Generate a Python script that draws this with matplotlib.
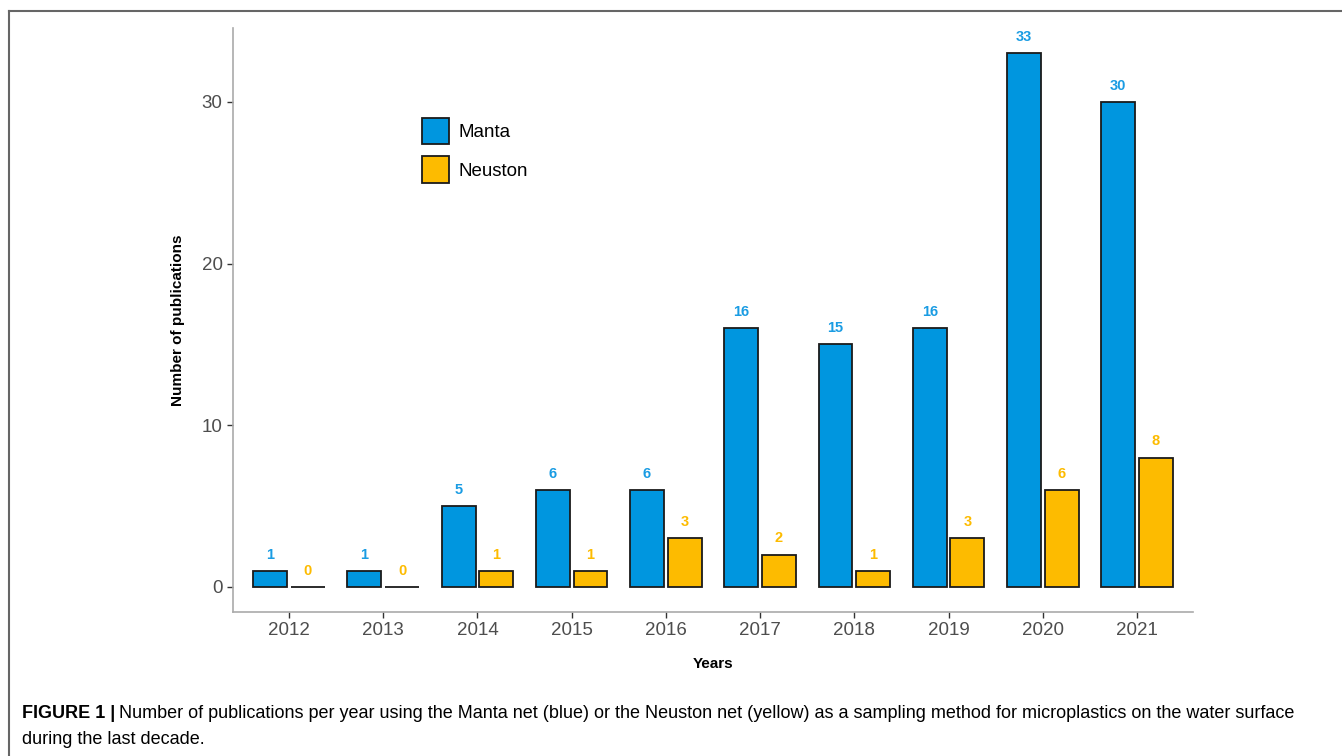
import matplotlib.pyplot as plt
import numpy as np

years = [2012, 2013, 2014, 2015, 2016, 2017, 2018, 2019, 2020, 2021]
manta = [1, 1, 5, 6, 6, 16, 15, 16, 33, 30]
neuston = [0, 0, 1, 1, 3, 2, 1, 3, 6, 8]
yticks = [0, 10, 20, 30]

BLUE = "#0096DF"
BLUE_TXT = "#1A9CE3"
YELLOW = "#FDBB00"
GREY_TXT = "#4D4D4D"
AXIS_GREY = "#AAAAAA"

plt.rcParams["font.family"] = ["Liberation Sans", "DejaVu Sans"]

fig = plt.figure(figsize=(13.42, 7.56), dpi=100)
W, H = 1342, 756

# axes box in pixel coords of the reference
x0, x1, y0, y1 = 233, 1193, 28, 612
ax = fig.add_axes([x0 / W, 1 - y1 / H, (x1 - x0) / W, (y1 - y0) / H])

x = np.arange(len(years))
bw = 0.36
off = 0.2
ax.bar(x - off, manta, width=bw, color=BLUE, edgecolor="#1a1a1a", linewidth=1.3, label="Manta", zorder=3)
ax.bar(x + off, neuston, width=bw, color=YELLOW, edgecolor="#1a1a1a", linewidth=1.3, label="Neuston", zorder=3)

for xi, m, n in zip(x, manta, neuston):
    ax.text(xi - off, m + 1.0, str(m), ha="center", va="center", color=BLUE_TXT,
            fontsize=10.5, fontweight="bold")
    ax.text(xi + off, n + 1.0, str(n), ha="center", va="center", color=YELLOW,
            fontsize=10.5, fontweight="bold")

ax.set_xlim(-0.594, len(years) - 1 + 0.594)
ax.set_ylim(-1.55, 34.57)
ax.set_xticks(x)
ax.set_xticklabels([str(y) for y in years])
ax.set_yticks(yticks)
ax.tick_params(axis="both", labelsize=13.5, length=4, width=1,
               labelcolor=GREY_TXT, color="#333333")
for s in ["top", "right"]:
    ax.spines[s].set_visible(False)
for s in ["left", "bottom"]:
    ax.spines[s].set_color(AXIS_GREY)
    ax.spines[s].set_linewidth(1.2)

ax.set_xlabel("Years", fontsize=11, fontweight="bold", labelpad=13)
ax.set_ylabel("Number of publications", fontsize=11, fontweight="bold", labelpad=12)

ax.legend(loc="upper left", bbox_to_anchor=((414 - x0) / (x1 - x0), (y1 - 110) / (y1 - y0)),
          frameon=False, fontsize=13.5, handlelength=1.45, handleheight=1.8,
          labelspacing=0.65, handletextpad=0.5, borderaxespad=0)

# figure frame (top and left only)
fig.add_artist(plt.Line2D([9 / W, 1], [1 - 10.5 / H, 1 - 10.5 / H], color="#666666", linewidth=1.5))
fig.add_artist(plt.Line2D([9 / W, 9 / W], [0, 1 - 10.5 / H], color="#666666", linewidth=1.5))

# caption
cap_size = 13.0
bold = fig.text(22 / W, 1 - 714 / H, "FIGURE 1 |", fontsize=cap_size, fontweight="bold", va="center")
renderer = fig.canvas.get_renderer()
bb = bold.get_window_extent(renderer=renderer)
fig.text((bb.x1 + 4) / W, 1 - 714 / H,
         "Number of publications per year using the Manta net (blue) or the Neuston net (yellow) "
         "as a sampling method for microplastics on the water surface",
         fontsize=cap_size, va="center")
fig.text(22 / W, 1 - 740 / H, "during the last decade.", fontsize=cap_size, va="center")

fig.savefig("out.png", dpi=100)
